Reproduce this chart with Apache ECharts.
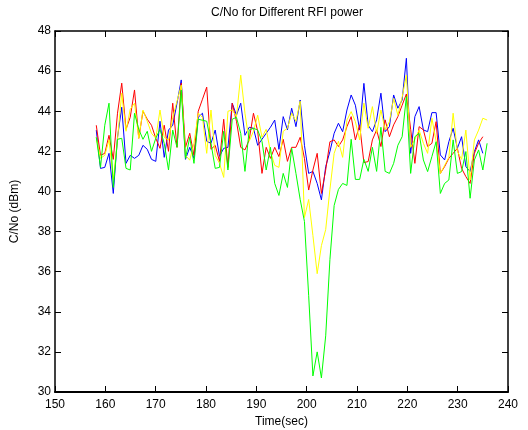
<!DOCTYPE html>
<html>
<head>
<meta charset="utf-8">
<script src="https://cdn.jsdelivr.net/npm/echarts@6/dist/echarts.min.js"></script>
<style>
  html, body { margin: 0; padding: 0; background: #fff; }
  #chart { width: 528px; height: 430px; }
</style>
</head>
<body>
<div id="chart"></div>
<script>
// sample times (sec)
const times = [
  158.20, 159.04, 159.89, 160.73, 161.58, 162.42, 163.26, 164.11, 164.95, 165.80,
  166.64, 167.48, 168.33, 169.17, 170.02, 170.86, 171.70, 172.55, 173.39, 174.24,
  175.08, 175.92, 176.77, 177.61, 178.46, 179.30, 180.14, 180.99, 181.83, 182.68,
  183.52, 184.36, 185.21, 186.05, 186.90, 187.74, 188.58, 189.43, 190.27, 191.12,
  191.96, 192.80, 193.65, 194.49, 195.34, 196.18, 197.02, 197.87, 198.71, 199.56,
  200.40, 201.24, 202.09, 202.93, 203.78, 204.62, 205.46, 206.31, 207.15, 208.00,
  208.84, 209.68, 210.53, 211.37, 212.22, 213.06, 213.90, 214.75, 215.59, 216.44,
  217.28, 218.12, 218.97, 219.81, 220.66, 221.50, 222.34, 223.19, 224.03, 224.88,
  225.72, 226.56, 227.41, 228.25, 229.10, 229.94, 230.78, 231.63, 232.47, 233.32,
  234.16, 235.00, 235.85
]

// C/No (dBm) per series
const blueVals = [
  43.06, 41.15, 41.2, 41.9, 39.9, 42.7, 44.2, 41.4, 41.8, 41.65,
  41.8, 42.3, 42.1, 41.6, 41.5, 43.5, 41.7, 43.06, 43.3, 44.4,
  45.56, 41.6, 42.2, 41.65, 43.7, 43.9, 42.5, 42.4, 43.06, 41.75,
  42.15, 42.2, 44.4, 43.8, 44.4, 42.8, 43.2, 43.15, 42.3, 42.6,
  42.9, 43.2, 43.56, 42.1, 43.73, 43.07, 44.15, 43.23, 44.56, 42.3,
  40.9, 41.0, 40.4, 39.58, 41.24, 41.99, 42.9, 43.4, 42.98, 44.06,
  44.81, 44.3, 43.07, 45.39, 43.3, 42.98, 43.57, 44.9, 42.98, 43.23,
  44.81, 44.15, 44.56, 46.64, 41.9, 43.73, 44.23, 43.07, 42.98, 43.93,
  43.93, 41.82, 41.57, 42.48, 43.15, 42.15, 42.73, 41.24, 40.99, 41.99,
  42.57, 41.9
]
const redVals = [
  43.3, 41.8, 41.9, 42.8, 41.6, 43.9, 45.4, 43.1, 43.7, 45.06,
  42.65, 44.0, 43.6, 43.3, 42.65, 42.15, 43.3, 42.0, 44.4, 42.2,
  45.4, 42.2, 42.9, 41.8, 44.0, 44.6, 45.2, 42.1, 42.3, 41.5,
  43.6, 41.2, 44.4, 43.5, 42.2, 42.07, 42.57, 43.9, 43.0, 40.9,
  42.2, 41.65, 42.2, 41.74, 42.6, 41.5, 42.2, 42.2, 42.7, 41.65,
  40.07, 41.07, 41.9, 39.9, 41.07, 42.48, 42.57, 42.24, 42.57, 43.23,
  43.73, 42.57, 43.32, 41.44, 41.49, 42.57, 43.07, 42.24, 43.57, 42.73,
  43.32, 43.73, 44.3, 44.86, 43.1, 41.4, 43.23, 43.07, 42.24, 42.4,
  43.48, 40.9, 41.24, 41.65, 41.9, 42.15, 41.15, 40.74, 40.4, 41.9,
  42.4, 42.73
]
const yellowVals = [
  42.7, 41.65, 41.8, 42.57, 40.6, 42.6, 44.9, 43.0, 44.1, 44.4,
  42.65, 44.06, 43.5, 42.9, 42.65, 44.06, 42.7, 42.56, 43.7, 44.5,
  45.3, 41.8, 41.56, 42.4, 43.9, 43.7, 41.9, 44.06, 41.8, 41.4,
  40.7, 44.0, 44.06, 43.73, 45.8, 43.9, 42.5, 43.0, 43.8, 42.7,
  43.1, 42.0, 41.3, 41.2, 43.0, 43.15, 43.9, 43.5, 44.5, 38.7,
  39.6, 37.8, 35.9, 37.3, 38.1, 40.1, 41.9, 42.5, 41.7, 43.56,
  43.98, 43.48, 42.57, 44.4, 43.15, 44.23, 42.9, 44.06, 43.07, 43.48,
  44.64, 43.8, 44.7, 45.8, 42.2, 42.6, 43.06, 42.4, 41.9, 43.65,
  42.5, 40.9, 41.3, 41.7, 43.9, 42.0, 41.6, 43.06, 40.57, 42.57,
  43.06, 43.65, 43.56
]
const greenVals = [
  42.7, 41.2, 43.3, 44.4, 40.2, 42.6, 42.65, 41.15, 41.07, 43.9,
  43.1, 42.6, 43.0, 42.0, 42.65, 43.1, 42.4, 41.07, 43.06, 42.2,
  45.06, 41.65, 42.7, 41.4, 43.6, 43.55, 43.5, 42.4, 41.15, 41.2,
  43.0, 41.07, 43.6, 43.7, 42.9, 41.0, 43.06, 43.15, 43.06, 42.5,
  41.07, 42.2, 40.4, 39.8, 40.9, 40.2, 42.15, 40.9, 39.6, 38.5,
  34.8, 30.8, 32.0, 30.7, 32.8, 36.6, 39.3, 40.1, 40.4, 40.3,
  42.6, 40.6, 40.6, 41.6, 41.0, 42.2, 41.0, 43.2, 41.0, 40.9,
  41.4, 42.3, 42.73, 44.73, 40.9, 42.73, 42.9, 41.57, 40.99, 41.74,
  42.48, 39.9, 40.4, 40.57, 42.57, 40.9, 40.99, 41.99, 39.66, 41.57,
  42.07, 41.07, 42.4
]

const xTicks = [150, 160, 170, 180, 190, 200, 210, 220, 230, 240]
const yTicks = [30, 32, 34, 36, 38, 40, 42, 44, 46, 48]

const font = 'Liberation Sans, Arial, sans-serif'

function pairs(vals) {
  return vals.map((v, i) => [times[i], v])
}

function lineSeries(name, color, vals) {
  return {
    name,
    type: 'line',
    xAxisIndex: 0,
    yAxisIndex: 0,
    showSymbol: false,
    symbol: 'none',
    lineStyle: { color, width: 1 },
    data: pairs(vals),
  }
}

// matlab-like box: black frame, ticks pointing inward on all four sides
function boxAxis(width) {
  return {
    axisLine: { show: true, lineStyle: { color: '#000', width } },
    axisTick: { show: true, inside: true, length: 6, lineStyle: { color: '#000' } },
    splitLine: { show: false },
  }
}

const chart = echarts.init(document.getElementById('chart'), null, { renderer: 'canvas' })

chart.setOption({
  animation: false,
  backgroundColor: '#fff',
  title: {
    text: 'C/No for Different RFI power',
    left: 282,
    top: 2,
    textAlign: 'center',
    textStyle: { fontFamily: font, fontSize: 12, fontWeight: 'normal', color: '#000' },
  },
  grid: { left: 55, right: 20, top: 31, bottom: 38, containLabel: false, outerBoundsMode: 'none' },
  xAxis: [
    {
      type: 'value',
      min: xTicks[0],
      max: xTicks[xTicks.length - 1],
      interval: 10,
      name: 'Time(sec)',
      nameLocation: 'middle',
      nameGap: 21,
      nameTextStyle: { fontFamily: font, fontSize: 12, color: '#000' },
      axisLabel: { fontFamily: font, fontSize: 12, color: '#000', margin: 7 },
      ...boxAxis(2),
    },
    {
      type: 'value',
      position: 'top',
      min: xTicks[0],
      max: xTicks[xTicks.length - 1],
      interval: 10,
      axisLabel: { show: false },
      ...boxAxis(1.5),
    },
  ],
  yAxis: [
    {
      type: 'value',
      min: yTicks[0],
      max: yTicks[yTicks.length - 1],
      interval: 2,
      name: 'C/No (dBm)',
      nameLocation: 'middle',
      nameGap: 34,
      nameTextStyle: { fontFamily: font, fontSize: 12, color: '#000' },
      axisLabel: { fontFamily: font, fontSize: 12, color: '#000', margin: 4 },
      ...boxAxis(1.5),
    },
    {
      type: 'value',
      position: 'right',
      min: yTicks[0],
      max: yTicks[yTicks.length - 1],
      interval: 2,
      axisLabel: { show: false },
      ...boxAxis(1.5),
    },
  ],
  series: [
    lineSeries('blue', '#0000ff', blueVals),
    lineSeries('red', '#ff0000', redVals),
    lineSeries('yellow', '#ffff00', yellowVals),
    lineSeries('green', '#00ff00', greenVals),
  ],
})
</script>
</body>
</html>
